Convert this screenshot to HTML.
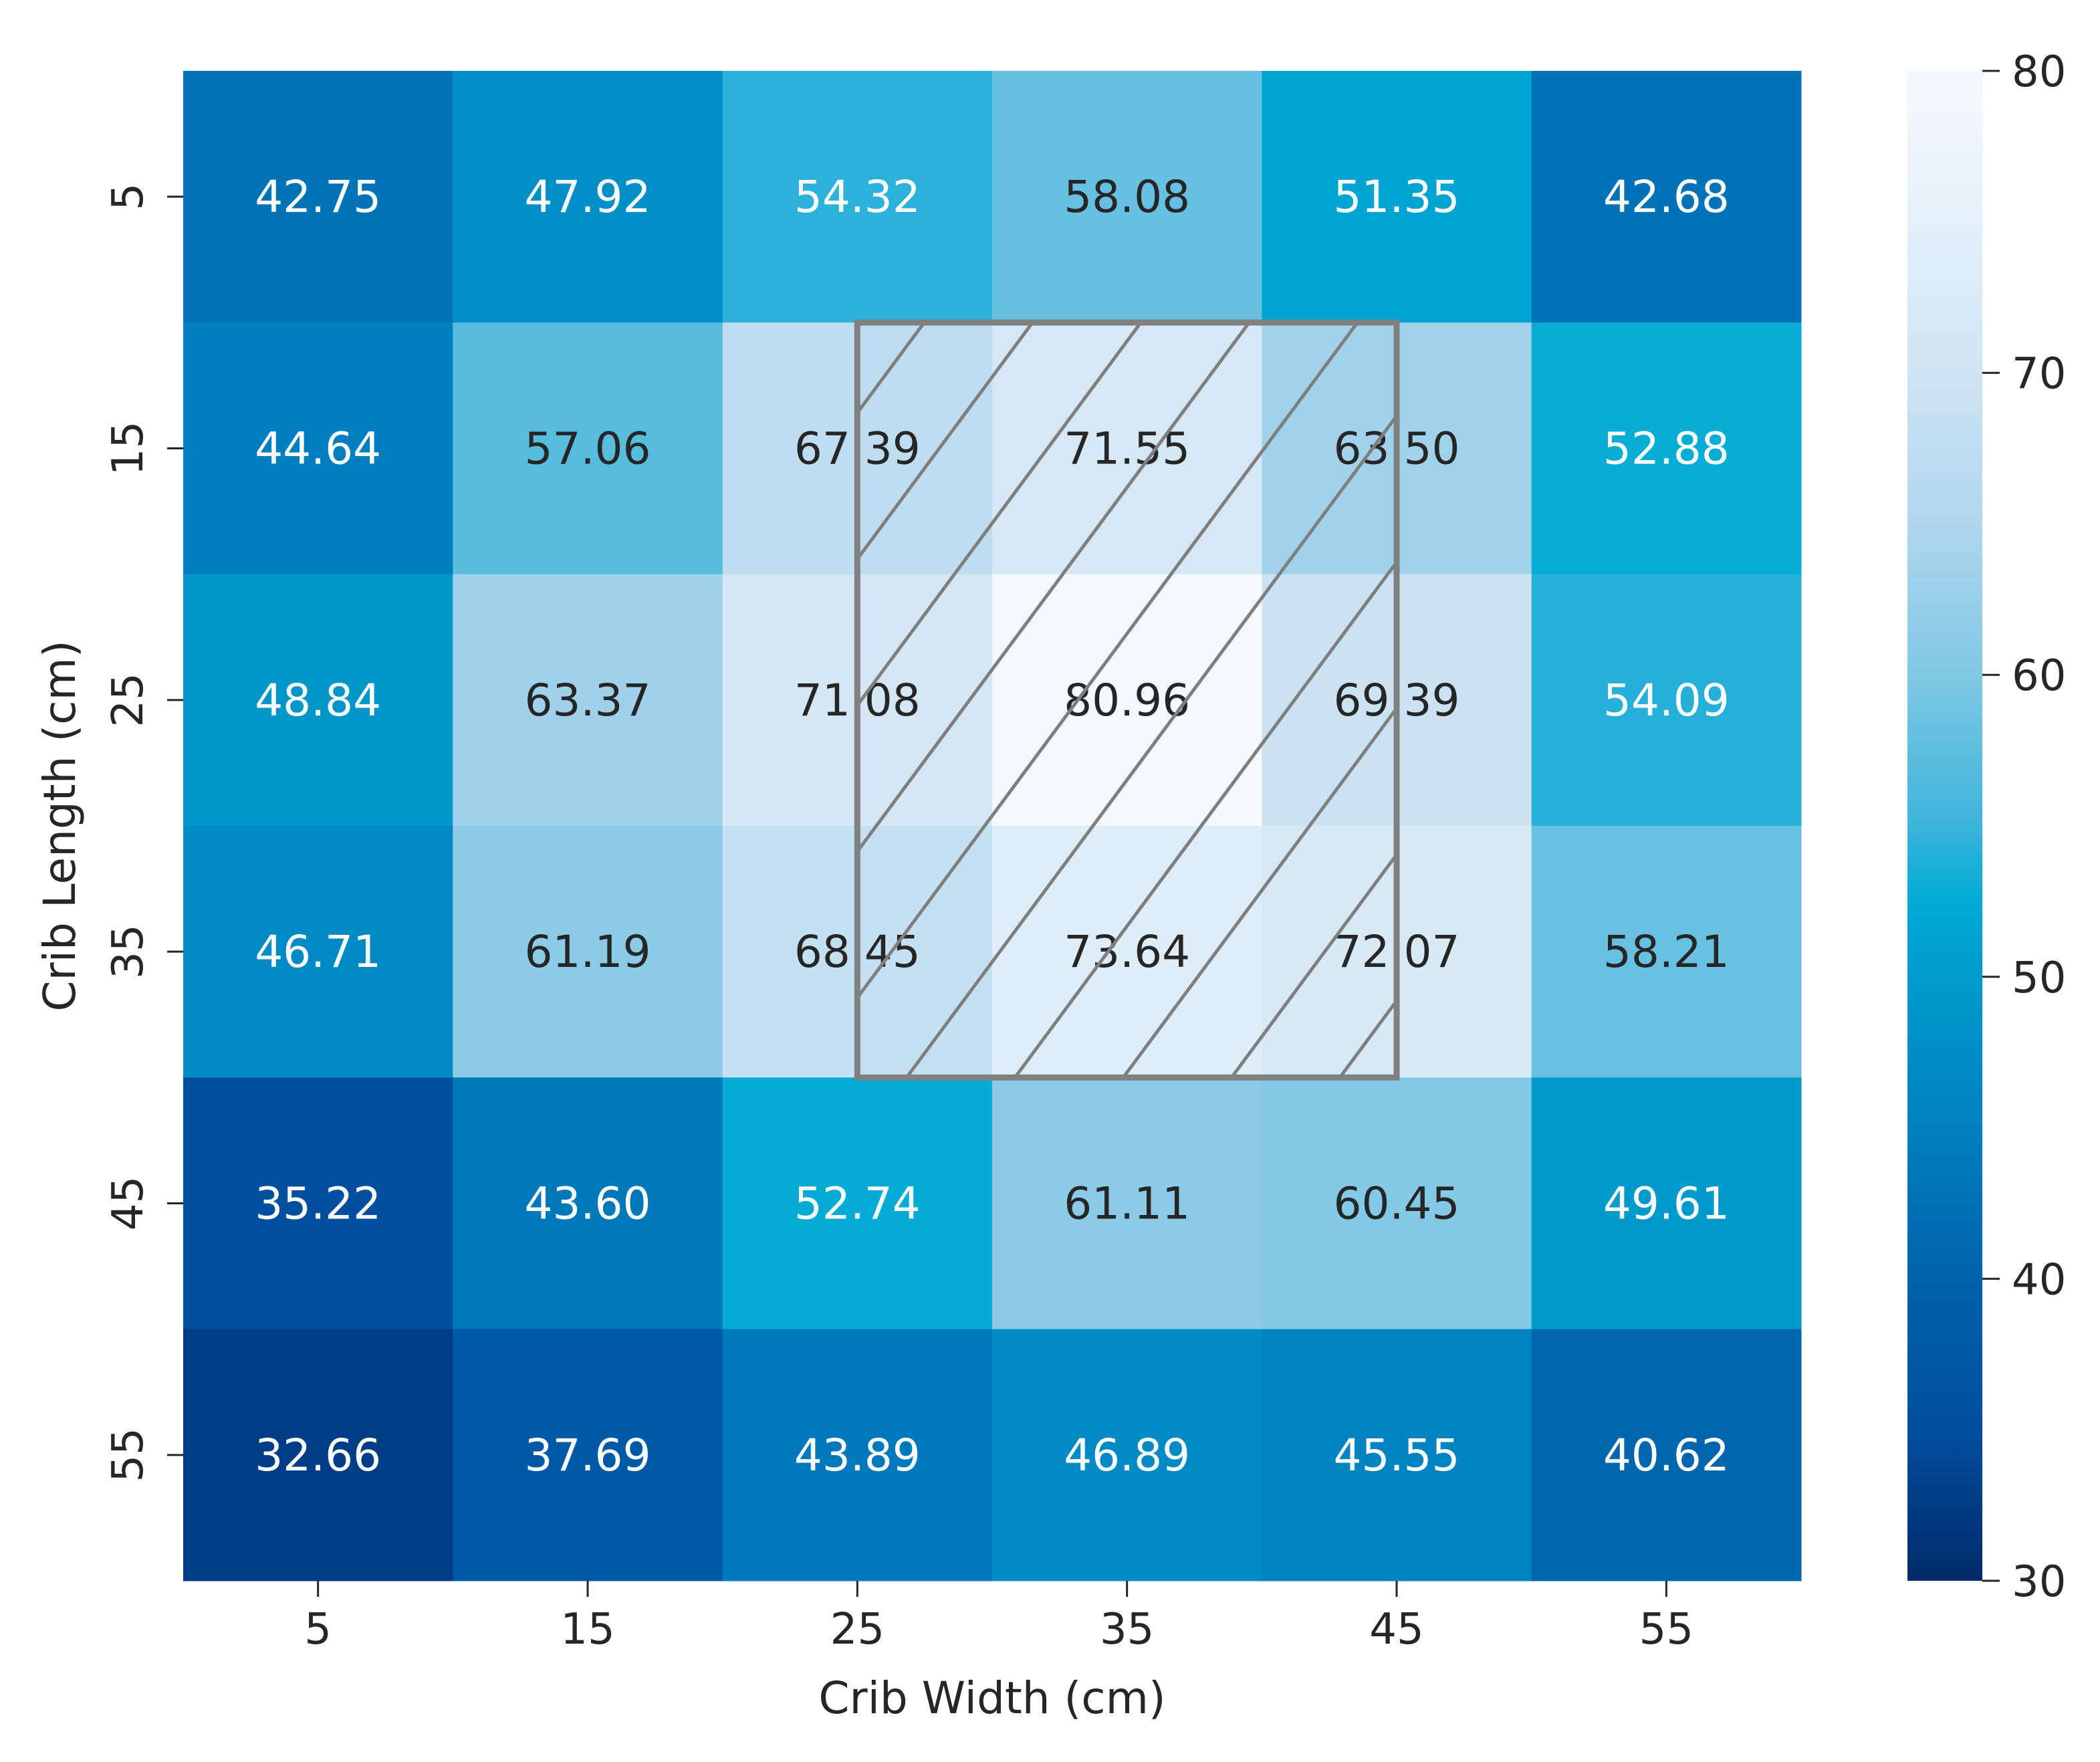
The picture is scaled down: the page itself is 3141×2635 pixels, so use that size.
<!DOCTYPE html>
<html><head><meta charset="utf-8"><style>
html,body{margin:0;padding:0;background:#fff;}
svg{display:block;font-family:"DejaVu Sans","Liberation Sans",sans-serif;}
</style></head><body>
<svg id="chart" width="3141" height="2635" viewBox="0 0 3141 2635" xmlns="http://www.w3.org/2000/svg">
<defs>
<linearGradient id="cbgrad" x1="0" y1="1" x2="0" y2="0"></linearGradient>
<clipPath id="hclip"><rect id="hcliprect"/></clipPath>
</defs>
<g id="cells"></g>
<g id="hatch"></g>
<g id="axes"></g>
</svg>
<script>
const widths = [5, 15, 25, 35, 45, 55];
const lengths = [5, 15, 25, 35, 45, 55];
const row5 = [42.75, 47.92, 54.32, 58.08, 51.35, 42.68];
const row15 = [44.64, 57.06, 67.39, 71.55, 63.50, 52.88];
const row25 = [48.84, 63.37, 71.08, 80.96, 69.39, 54.09];
const row35 = [46.71, 61.19, 68.45, 73.64, 72.07, 58.21];
const row45 = [35.22, 43.60, 52.74, 61.11, 60.45, 49.61];
const row55 = [32.66, 37.69, 43.89, 46.89, 45.55, 40.62];
const cbTicks = [30, 40, 50, 60, 70, 80];
const highlightWidth = [25, 45];
const highlightLength = [15, 35];

const rows = [row5, row15, row25, row35, row45, row55];
const NS = "http://www.w3.org/2000/svg";
const L = 274, R = 2694, T = 106, B = 2364;
const cw = (R - L) / widths.length, ch = (B - T) / lengths.length;
const vmin = 30, vmax = 80;
const stops = [[30,[0,42,106]],[35,[0,78,158]],[40,[0,98,172]],[45,[0,128,192]],[50,[0,156,204]],[52.5,[0,170,212]],[55,[60,180,220]],[60,[128,200,228]],[65,[176,214,238]],[70,[207,228,244]],[75,[228,240,250]],[80,[245,249,254]]];
function color(v){
  v = Math.max(vmin, Math.min(vmax, v));
  for (let i = 0; i < stops.length - 1; i++) {
    const a = stops[i], b = stops[i+1];
    if (v <= b[0]) { const t = (v - a[0]) / (b[0] - a[0]);
      return "rgb(" + a[1].map((c,k)=>Math.round(c + t*(b[1][k]-c))).join(",") + ")"; }
  }
  return "rgb(245,249,254)";
}
function xPos(w){ return L + (widths.indexOf(w) + 0.5) * cw; }
function yTop(l){ return T + lengths.indexOf(l) * ch; }
function mk(tag, attrs, parent){ const e = document.createElementNS(NS, tag); for (const k in attrs) e.setAttribute(k, attrs[k]); parent.appendChild(e); return e; }

const cells = document.getElementById("cells");
rows.forEach((row, r) => row.forEach((v, c) => {
  const rect = mk("rect", {x: L + c*cw, y: T + r*ch, width: cw + 0.5, height: ch + 0.5, fill: color(v)}, cells);
  
  
  const t = mk("text", {x: L + (c+0.5)*cw, y: T + (r+0.5)*ch + 23, "text-anchor": "middle", "font-size": 66, fill: v < 56 ? "#ffffff" : "#262626"}, cells);
  
  
  t.textContent = v.toFixed(2);
}));

const hx0 = xPos(highlightWidth[0]), hx1 = xPos(highlightWidth[1]);
const hy0 = yTop(highlightLength[0]), hy1 = yTop(highlightLength[1]) + ch;
const cr = document.getElementById("hcliprect");
cr.setAttribute("x", hx0); cr.setAttribute("y", hy0); cr.setAttribute("width", hx1 - hx0); cr.setAttribute("height", hy1 - hy0);
const hatch = document.getElementById("hatch");
hatch.setAttribute("clip-path", "url(#hclip)");
const slope = 1.35, sp = 162;
for (let k = -20; k < 20; k++) {
  const x0 = hx0 + 100 + k*sp;
  const ln = mk("line", {x1: x0, y1: hy0, x2: x0 - (hy1 - hy0)/slope, y2: hy1, stroke: "#7f7f7f", "stroke-width": 5}, hatch);
  
  
}
const axes = document.getElementById("axes");
const hr = mk("rect", {x: hx0, y: hy0, width: hx1 - hx0, height: hy1 - hy0, fill: "none", stroke: "#808080", "stroke-width": 9}, axes);



widths.forEach(w => {
  const x = xPos(w);
  mk("line", {x1: x, y1: B, x2: x, y2: B + 24, stroke: "#262626", "stroke-width": 3}, axes);
  const t = mk("text", {x: x, y: B + 94, "text-anchor": "middle", "font-size": 64, fill: "#262626"}, axes);
  
  
  t.textContent = w;
});
lengths.forEach(l => {
  const y = yTop(l) + ch/2;
  mk("line", {x1: L - 24, y1: y, x2: L, y2: y, stroke: "#262626", "stroke-width": 3}, axes);
  const t = mk("text", {x: 0, y: 0, transform: "translate(213," + y + ") rotate(-90)", "text-anchor": "middle", "font-size": 64, fill: "#262626"}, axes);
  
  
  t.textContent = l;
});
const xl = mk("text", {x: (L+R)/2, y: 2562, "text-anchor": "middle", "font-size": 66, fill: "#262626"}, axes);


xl.textContent = "Crib Width (cm)";
const yl = mk("text", {x: 0, y: 0, transform: "translate(112," + (T+B)/2 + ") rotate(-90)", "text-anchor": "middle", "font-size": 66, fill: "#262626"}, axes);


yl.textContent = "Crib Length (cm)";

const g = document.getElementById("cbgrad");
stops.forEach(s => mk("stop", {offset: (s[0]-vmin)/(vmax-vmin), "stop-color": color(s[0])}, g));
const CX = 2853, CW = 112;
const cb = mk("rect", {x: CX, y: T, width: CW, height: B - T, fill: "url(#cbgrad)"}, axes);


cbTicks.forEach(v => {
  const y = B - (v - vmin)/(vmax - vmin) * (B - T);
  mk("line", {x1: CX + CW, y1: y, x2: CX + CW + 26, y2: y, stroke: "#262626", "stroke-width": 3}, axes);
  const t = mk("text", {x: CX + CW + 44, y: y + 23, "font-size": 64, fill: "#262626"}, axes);
  
  
  t.textContent = v;
});
</script>
</body></html>
